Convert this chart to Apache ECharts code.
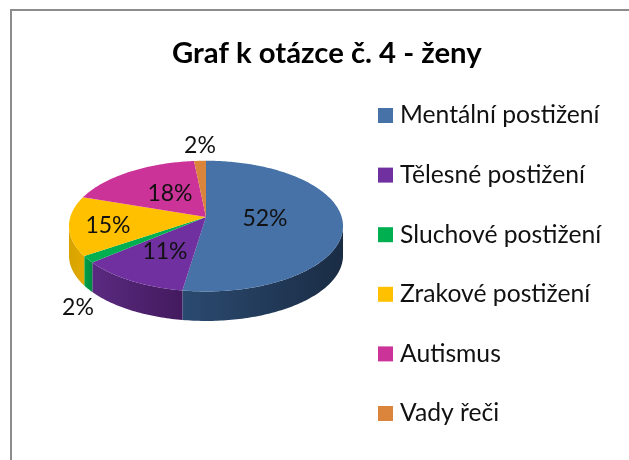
<!DOCTYPE html>
<html>
<head>
<meta charset="utf-8">
<title>Graf k otázce č. 4 - ženy</title>
<script src="https://cdn.jsdelivr.net/npm/echarts@6/dist/echarts.min.js"></script>
<style>
  html, body { margin: 0; padding: 0; background: #fff; }
  #chart { width: 629px; height: 460px; }
</style>
</head>
<body>
<div id="chart"></div>
<script>
const categories = ["Mentální postižení", "Tělesné postižení", "Sluchové postižení", "Zrakové postižení", "Autismus", "Vady řeči"];
const values = [52.4, 11.4, 1.7, 14.7, 18.2, 1.6];

const topColors = ["#4672a8", "#7030a0", "#00b050", "#ffc000", "#cc3399", "#da843c"];
// wall gradient: left colour, right colour
const wallColors = [
  ["#2b4a70", "#1a2c44"],
  ["#5a2a80", "#431a5e"],
  ["#00a04a", "#008a40"],
  ["#d9a300", "#e0aa00"],
  ["#cc3399", "#cc3399"],
  ["#da843c", "#da843c"],
];
const labelPos = [[265, 219], [165, 252], [78, 308], [108, 226], [170, 194], [200, 146]];

// tilted disc with a bit of perspective, so the apex sits above the middle of the ellipse
const cx = 206, cy = 217, c = 135.7, a = 64.1, b = -0.139, depth = 29.5;
function project(deg) {
  const t = deg * Math.PI / 180;
  const u = Math.sin(t), v = -Math.cos(t);
  const k = 1 + b * v;
  return [cx + c * u / k, cy + a * v / k];
}
function arc(from, to) {
  const pts = [];
  const n = Math.max(2, Math.ceil(to - from));
  for (let i = 0; i <= n; i++) pts.push(project(from + (to - from) * i / n));
  return pts;
}

const total = values.reduce((s, x) => s + x, 0);
let run = 0;
const starts = values.map((x) => { const s = run; run += x; return s; });

function renderSlice(idx) {
  return function (params, api) {
    const from = api.value(1) / total * 360;
    const to = from + api.value(0) / total * 360;
    const children = [];
    // only the front part of the rim has a visible wall
    const wf = Math.max(from, 98), wt = Math.min(to, 262);
    if (wt > wf) {
      const rim = arc(wf, wt);
      const low = rim.slice().reverse().map((p) => [p[0], p[1] + depth]);
      children.push({
        type: "polygon",
        shape: { points: rim.concat(low) },
        style: {
          fill: new echarts.graphic.LinearGradient(0, 0, 1, 0, [
            { offset: 0, color: wallColors[idx][0] },
            { offset: 1, color: wallColors[idx][1] },
          ]),
        },
      });
    }
    children.push({
      type: "polygon",
      shape: { points: [[cx, cy]].concat(arc(from, to)) },
      style: { fill: topColors[idx] },
    });
    children.push({
      type: "text",
      z2: 10,
      style: {
        x: labelPos[idx][0],
        y: labelPos[idx][1],
        text: Math.round(api.value(0)) + "%",
        fill: "#111",
        font: '23px Lato',
        align: "center",
        verticalAlign: "middle",
      },
    });
    return { type: "group", children: children };
  };
}

const chart = echarts.init(document.getElementById("chart"), null, { renderer: "canvas" });
chart.setOption({
  animation: false,
  backgroundColor: "#fff",
  title: {
    text: "Graf k otázce č. 4 - ženy",
    left: 167,
    top: 34,
    textStyle: { fontFamily: "Lato", fontSize: 29.3, fontWeight: "bold", color: "#000" },
  },
  legend: {
    orient: "vertical",
    left: 378,
    top: 103,
    padding: 0,
    itemWidth: 15,
    itemHeight: 15,
    itemGap: 34.6,
    icon: "rect",
    selectedMode: false,
    textStyle: { fontFamily: "Lato", fontSize: 24.7, color: "#111", padding: [0, 0, 0, 2] },
    data: categories,
  },
  graphic: [{
    type: "polyline",
    shape: { points: [[11, 460], [11, 10], [629, 10]] },
    style: { stroke: "#8c8c8c", lineWidth: 2, fill: null },
  }],
  series: categories.map((name, i) => ({
    type: "custom",
    name: name,
    coordinateSystem: "none",
    itemStyle: { color: topColors[i] },
    renderItem: renderSlice(i),
    data: [[values[i], starts[i]]],
  })),
});
</script>
</body>
</html>
